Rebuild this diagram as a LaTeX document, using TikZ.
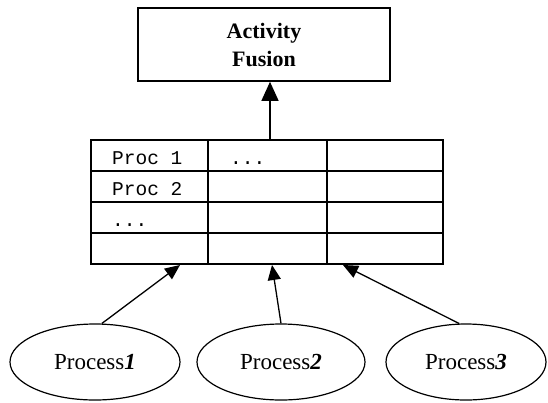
\documentclass[tikz,border=0pt]{standalone}
\usepackage{fontspec}
\setmainfont{Liberation Serif}
\setmonofont{Liberation Mono}
\usetikzlibrary{shapes.geometric,arrows.meta}
\begin{document}
\begin{tikzpicture}[x=1pt,y=-1pt,
  frame/.style={draw, line width=1.6pt},
  gridline/.style={line width=1.6pt},
  procnode/.style={ellipse, draw, line width=1.2pt, minimum height=76pt,
    inner sep=0pt, font=\fontsize{23}{26}\selectfont},
  feed/.style={line width=1.3pt, -{Triangle[width=13pt,length=15pt]}},
  bigfeed/.style={line width=1.3pt, -{Triangle[width=17pt,length=19pt]}},
  celltext/.style={anchor=base west, inner sep=0pt,
    font=\ttfamily\fontsize{19.5}{22}\selectfont}]
\useasboundingbox (0,0) rectangle (548,402);

% fusion block
\node[frame, minimum width=252pt, minimum height=73pt, align=center,
  font=\bfseries\fontsize{22}{28}\selectfont] (fusion) at (264,44.5)
  {Activity\\Fusion};

% activity table: 4 rows x 3 columns
\node[frame, minimum width=352pt, minimum height=124pt, inner sep=0pt]
  (tbl) at (267,202) {};
\foreach \y in {171,202,233}
  \draw[gridline] (91,\y) -- (443,\y);
\foreach \x in {208,327}
  \draw[gridline] (\x,140) -- (\x,264);

\node[celltext] (c11) at (112,164) {Proc 1};
\node[celltext] (c12) at (230,164) {...};
\node[celltext] (c21) at (112,195) {Proc 2};
\node[celltext] (c31) at (112,226) {...};

% processes
\node[procnode, minimum width=170pt] (p1) at (95,362)
  {Process\textbf{\textit{1}}};
\node[procnode, minimum width=168pt] (p2) at (281,362)
  {Process\textbf{\textit{2}}};
\node[procnode, minimum width=160pt] (p3) at (466,362)
  {Process\textbf{\textit{3}}};

% connectors
\coordinate (out) at (270,140);
\coordinate (in1) at (180,265);
\coordinate (in2) at (272,265);
\coordinate (in3) at (343,265);

\draw[bigfeed] (out) -- (fusion.south -| out);
\draw[feed] (p1.80) -- (in1);
\draw[feed] (p2.north) -- (in2);
\draw[feed] (p3.100) -- (in3);
\end{tikzpicture}
\end{document}
